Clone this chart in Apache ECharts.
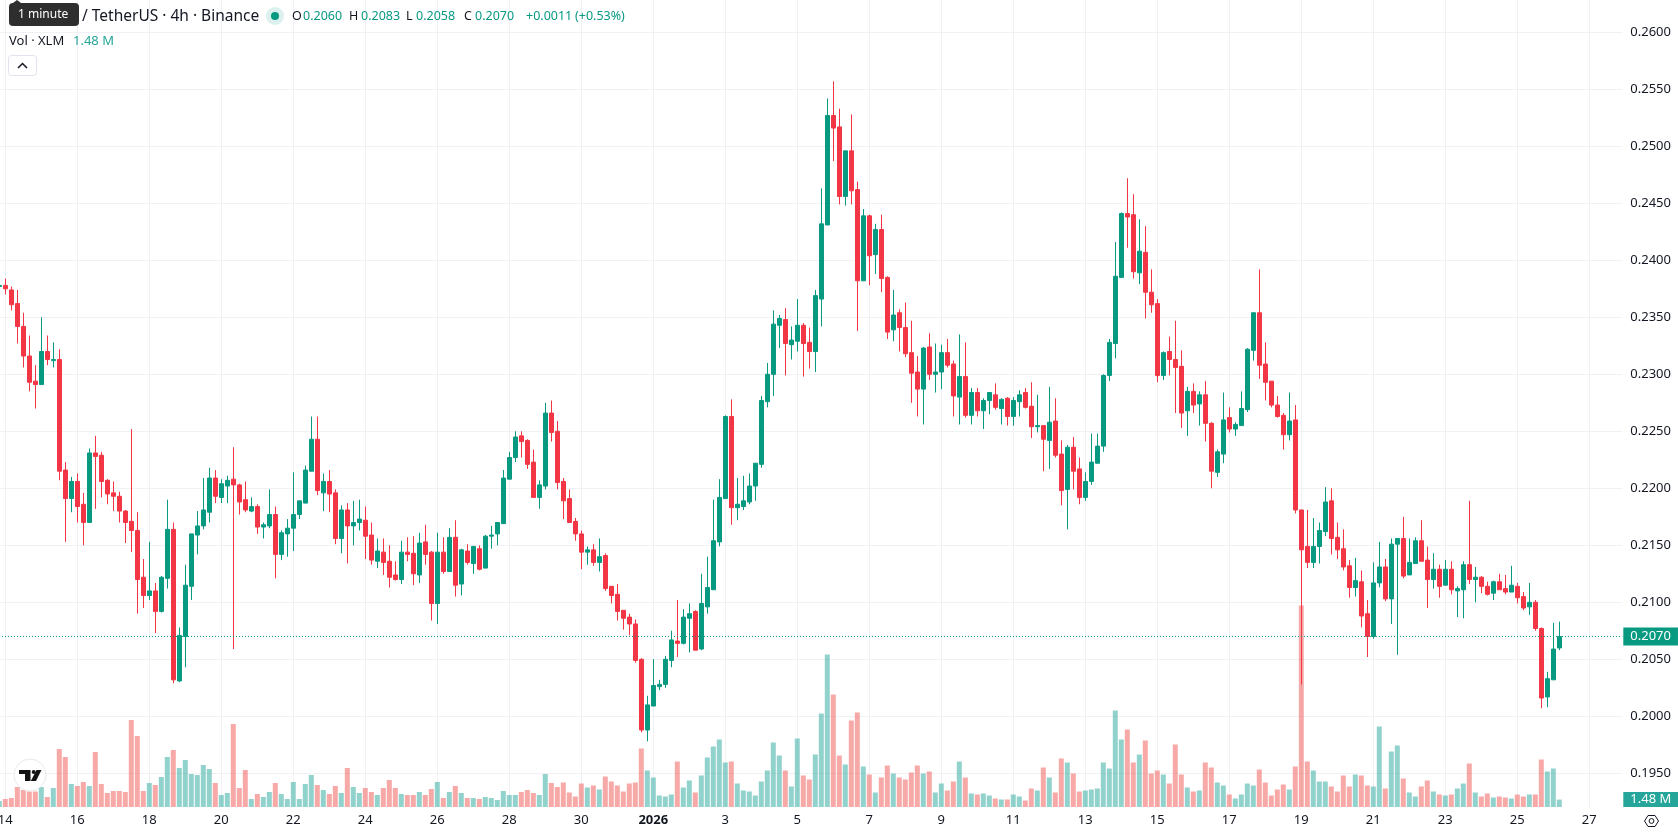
<!DOCTYPE html>
<html>
<head>
<meta charset="utf-8">
<title>XLM / TetherUS 4h</title>
<script src="https://cdn.jsdelivr.net/npm/echarts@6/dist/echarts.min.js"></script>
<style>
html,body{margin:0;padding:0;background:#fff;overflow:hidden}
#chart{width:1678px;height:835px}
</style>
</head>
<body>
<div id="chart"></div>
<script>
// Four-hour XLM/USDT candles, oldest first; the first bar closes the session before Dec 14.
const opens = [
.2377,.2378,.2374,.2362,.2342,.2316,.2294,.2291,.2320,.2312,
.2313,.2216,.2191,.2206,.2186,.2170,.2231,.2229,.2207,.2196,
.2193,.2180,.2171,.2163,.2122,.2106,.2110,.2092,.2121,.2164,
.2031,.2070,.2114,.2159,.2167,.2179,.2209,.2192,.2202,.2208,
.2203,.2190,.2180,.2184,.2166,.2167,.2177,.2142,.2160,.2165,
.2177,.2187,.2215,.2243,.2196,.2206,.2196,.2156,.2181,.2167,
.2170,.2172,.2159,.2136,.2144,.2136,.2124,.2120,.2144,.2143,
.2124,.2153,.2144,.2099,.2144,.2127,.2157,.2116,.2145,.2134,
.2147,.2130,.2158,.2160,.2169,.2208,.2227,.2246,.2242,.2223,
.2192,.2202,.2266,.2250,.2206,.2191,.2171,.2160,.2144,.2146,
.2135,.2141,.2114,.2107,.2093,.2087,.2081,.2050,.1988,.2009,
.2026,.2028,.2049,.2066,.2064,.2086,.2092,.2059,.2096,.2111,
.2153,.2191,.2263,.2183,.2184,.2188,.2202,.2221,.2276,.2300,
.2343,.2348,.2326,.2329,.2343,.2328,.2320,.2366,.2431,.2527,
.2517,.2456,.2496,.2462,.2382,.2439,.2405,.2427,.2385,.2339,
.2354,.2341,.2319,.2302,.2287,.2324,.2300,.2302,.2319,.2309,
.2280,.2298,.2264,.2284,.2268,.2277,.2282,.2270,.2279,.2263,
.2276,.2284,.2272,.2254,.2255,.2242,.2259,.2230,.2199,.2236,
.2217,.2192,.2206,.2222,.2237,.2299,.2327,.2385,.2441,.2440,
.2389,.2407,.2372,.2362,.2299,.2320,.2313,.2307,.2268,.2285,
.2274,.2282,.2257,.2214,.2230,.2262,.2252,.2255,.2269,.2321,
.2354,.2309,.2294,.2273,.2264,.2247,.2260,.2181,.2149,.2135,
.2149,.2162,.2189,.2157,.2147,.2132,.2113,.2118,.2090,.2070,
.2117,.2131,.2103,.2151,.2156,.2124,.2134,.2154,.2137,.2120,
.2129,.2115,.2129,.2110,.2111,.2133,.2120,.2122,.2114,.2108,
.2118,.2112,.2109,.2114,.2105,.2096,.2100,.2077,.2017,.2032,.2060
];
const highs = [
.2380,.2384,.2377,.2374,.2354,.2334,.2308,.2350,.2334,.2328,
.2322,.2223,.2210,.2213,.2196,.2235,.2246,.2232,.2208,.2206,
.2197,.2181,.2252,.2179,.2138,.2153,.2117,.2123,.2190,.2170,
.2078,.2133,.2160,.2180,.2209,.2218,.2216,.2208,.2211,.2236,
.2204,.2206,.2192,.2186,.2170,.2199,.2184,.2163,.2173,.2214,
.2189,.2220,.2263,.2263,.2213,.2216,.2199,.2185,.2187,.2189,
.2190,.2184,.2170,.2156,.2156,.2150,.2136,.2154,.2157,.2158,
.2161,.2168,.2145,.2161,.2157,.2165,.2172,.2147,.2151,.2149,
.2150,.2159,.2167,.2170,.2216,.2232,.2250,.2250,.2243,.2234,
.2207,.2275,.2277,.2259,.2209,.2199,.2174,.2163,.2149,.2151,
.2156,.2143,.2114,.2116,.2093,.2090,.2085,.2051,.2018,.2050,
.2032,.2053,.2075,.2102,.2094,.2099,.2093,.2125,.2140,.2190,
.2208,.2264,.2278,.2209,.2211,.2213,.2222,.2281,.2310,.2356,
.2352,.2358,.2342,.2366,.2345,.2341,.2374,.2463,.2542,.2557,
.2533,.2496,.2528,.2469,.2445,.2440,.2432,.2440,.2386,.2374,
.2357,.2363,.2347,.2316,.2324,.2336,.2327,.2326,.2331,.2312,
.2335,.2328,.2288,.2288,.2279,.2284,.2292,.2279,.2280,.2280,
.2286,.2288,.2293,.2282,.2255,.2289,.2279,.2242,.2238,.2245,
.2227,.2214,.2248,.2248,.2300,.2331,.2416,.2442,.2472,.2458,
.2436,.2430,.2392,.2366,.2320,.2333,.2347,.2321,.2289,.2292,
.2285,.2294,.2258,.2234,.2284,.2271,.2258,.2285,.2323,.2354,
.2392,.2328,.2294,.2281,.2266,.2284,.2273,.2181,.2181,.2174,
.2170,.2201,.2200,.2170,.2164,.2137,.2139,.2128,.2102,.2135,
.2153,.2138,.2156,.2156,.2175,.2156,.2157,.2172,.2149,.2143,
.2133,.2137,.2136,.2114,.2136,.2189,.2131,.2123,.2118,.2119,
.2125,.2124,.2132,.2117,.2109,.2117,.2102,.2078,.2039,.2082,.2083
];
const lows = [
.2377,.2370,.2356,.2327,.2306,.2285,.2270,.2291,.2308,.2306,
.2207,.2153,.2179,.2170,.2150,.2170,.2182,.2192,.2186,.2180,
.2170,.2152,.2144,.2090,.2095,.2102,.2073,.2091,.2112,.2029,
.2030,.2043,.2102,.2142,.2164,.2170,.2187,.2187,.2187,.2059,
.2177,.2179,.2179,.2160,.2156,.2165,.2121,.2137,.2140,.2145,
.2173,.2187,.2215,.2194,.2180,.2179,.2151,.2143,.2134,.2150,
.2163,.2138,.2133,.2130,.2124,.2113,.2119,.2116,.2136,.2115,
.2117,.2133,.2084,.2081,.2125,.2127,.2105,.2106,.2133,.2125,
.2128,.2130,.2147,.2150,.2169,.2208,.2223,.2227,.2217,.2192,
.2182,.2199,.2241,.2199,.2173,.2170,.2154,.2129,.2133,.2132,
.2127,.2110,.2099,.2084,.2076,.2071,.2047,.1986,.1978,.2009,
.2023,.2025,.2043,.2052,.2063,.2056,.2058,.2058,.2090,.2111,
.2149,.2191,.2168,.2172,.2181,.2186,.2189,.2218,.2271,.2281,
.2323,.2299,.2313,.2320,.2298,.2305,.2302,.2342,.2431,.2487,
.2449,.2448,.2449,.2338,.2382,.2378,.2388,.2372,.2331,.2329,
.2320,.2315,.2275,.2263,.2256,.2295,.2284,.2287,.2306,.2263,
.2256,.2262,.2256,.2263,.2252,.2265,.2269,.2256,.2255,.2255,
.2263,.2270,.2244,.2249,.2215,.2217,.2227,.2185,.2164,.2199,
.2186,.2189,.2203,.2222,.2232,.2294,.2314,.2385,.2411,.2384,
.2379,.2349,.2354,.2293,.2295,.2299,.2266,.2253,.2246,.2266,
.2255,.2241,.2200,.2210,.2222,.2249,.2246,.2255,.2267,.2312,
.2296,.2277,.2271,.2262,.2234,.2242,.2178,.2028,.2130,.2130,
.2134,.2158,.2142,.2138,.2128,.2104,.2105,.2078,.2052,.2068,
.2113,.2101,.2081,.2054,.2121,.2124,.2134,.2136,.2095,.2112,
.2104,.2115,.2107,.2087,.2086,.2116,.2100,.2108,.2106,.2102,
.2111,.2107,.2109,.2099,.2093,.2089,.2075,.2007,.2008,.2032,.2058
];
const closes = [
.2378,.2375,.2361,.2342,.2316,.2293,.2291,.2320,.2313,.2313,
.2215,.2191,.2206,.2184,.2170,.2231,.2228,.2206,.2195,.2193,
.2180,.2170,.2163,.2120,.2106,.2110,.2092,.2122,.2164,.2032,
.2071,.2115,.2160,.2167,.2181,.2209,.2193,.2204,.2207,.2203,
.2188,.2181,.2184,.2166,.2168,.2177,.2142,.2161,.2165,.2177,
.2189,.2216,.2243,.2198,.2206,.2195,.2156,.2181,.2167,.2170,
.2173,.2158,.2137,.2145,.2135,.2122,.2120,.2144,.2142,.2125,
.2152,.2142,.2099,.2144,.2127,.2157,.2115,.2146,.2135,.2149,
.2129,.2158,.2159,.2170,.2209,.2227,.2245,.2241,.2221,.2192,
.2203,.2266,.2249,.2205,.2189,.2170,.2160,.2144,.2146,.2135,
.2140,.2112,.2106,.2092,.2086,.2081,.2049,.1988,.2010,.2027,
.2028,.2050,.2067,.2064,.2087,.2090,.2058,.2099,.2113,.2154,
.2192,.2263,.2183,.2186,.2189,.2202,.2222,.2277,.2300,.2344,
.2349,.2327,.2330,.2343,.2327,.2320,.2369,.2432,.2527,.2516,
.2456,.2496,.2461,.2382,.2439,.2404,.2427,.2384,.2337,.2352,
.2341,.2318,.2301,.2287,.2323,.2300,.2302,.2319,.2308,.2281,
.2298,.2264,.2284,.2268,.2277,.2284,.2271,.2278,.2263,.2277,
.2282,.2271,.2254,.2255,.2243,.2258,.2229,.2198,.2236,.2215,
.2192,.2206,.2223,.2237,.2299,.2328,.2386,.2441,.2438,.2390,
.2408,.2372,.2361,.2299,.2319,.2313,.2306,.2266,.2285,.2273,
.2282,.2257,.2215,.2232,.2260,.2252,.2256,.2270,.2322,.2354,
.2308,.2293,.2273,.2263,.2247,.2259,.2181,.2146,.2135,.2149,
.2163,.2188,.2156,.2146,.2131,.2113,.2119,.2088,.2070,.2117,
.2131,.2103,.2151,.2156,.2123,.2135,.2154,.2136,.2120,.2129,
.2114,.2129,.2111,.2112,.2133,.2120,.2122,.2114,.2107,.2118,
.2111,.2109,.2115,.2104,.2095,.2100,.2077,.2016,.2033,.2059,.2070
];
// Traded volume per bar, in millions of XLM.
const volumes = [
1.2,1.6,1.8,4.0,3.4,3.1,3.1,4.0,2.0,3.8,
11.6,10.0,4.6,4.2,5.0,4.2,11.0,4.6,2.8,3.2,
3.2,3.0,17.4,14.2,3.2,4.8,4.4,6.0,10.0,11.4,
7.8,9.4,6.6,6.4,8.4,7.6,4.8,2.4,2.8,16.6,
3.8,7.4,1.6,2.6,2.0,3.0,4.8,2.6,1.6,5.0,
1.6,4.6,6.4,4.4,3.4,2.6,4.2,2.8,7.8,4.0,
2.8,3.8,3.0,2.4,3.8,5.4,3.8,2.6,2.4,2.4,
3.0,2.4,3.6,5.0,1.8,3.0,4.2,2.8,1.8,1.8,
1.6,2.0,1.8,1.4,3.2,2.4,2.4,3.0,3.4,2.8,
2.4,6.6,4.8,4.0,4.9,2.9,2.1,4.7,3.9,4.3,
3.5,6.1,5.1,4.3,3.1,4.7,4.9,11.7,7.3,5.9,
2.3,2.1,2.5,9.1,3.9,5.3,2.9,6.3,9.9,12.1,
13.5,8.9,9.1,4.7,3.3,3.1,2.3,5.1,7.3,12.9,
10.3,7.3,4.1,13.7,6.3,5.5,10.5,18.7,30.5,22.5,
10.3,8.5,17.3,18.9,8.1,6.5,2.9,5.9,8.3,6.7,
5.9,5.5,6.9,8.3,6.7,7.1,2.9,4.7,3.3,5.1,
9.1,5.9,2.7,2.5,2.7,2.3,1.7,1.5,1.5,2.5,
2.1,1.3,3.7,3.3,7.9,5.9,2.9,9.7,8.9,6.7,
3.1,3.3,3.5,3.7,8.9,7.7,19.3,13.5,15.5,8.9,
10.5,13.3,6.7,7.3,6.5,4.7,12.5,6.5,3.9,3.1,
3.3,8.9,7.9,4.9,4.3,2.5,1.7,2.5,4.7,4.3,
7.5,4.9,2.3,3.5,4.5,3.5,8.1,40.3,9.1,7.3,
5.1,5.1,4.1,3.1,6.3,4.1,6.5,6.3,4.3,4.1,
16.1,3.7,11.1,12.3,5.7,2.9,2.1,4.1,5.3,3.1,
2.5,2.3,2.5,3.7,4.7,8.7,2.9,2.1,2.7,1.9,
2.1,1.9,1.7,2.5,2.1,2.5,2.5,9.5,7.1,7.7,1.48
];
// Date labels, one every twelve bars (two days) from the bar after the first.
const dayLabels = ['14','16','18','20','22','24','26','28','30','2026','3','5','7','9','11','13','15','17','19','21','23','25','27'];
const priceTicks = {min: 0.195, max: 0.265, step: 0.005, topLabel: 0.26};
const header = {pair: '/ TetherUS · 4h · Binance', volume: 'Vol · XLM', hint: '1 minute'};

const UP = '#089981', DOWN = '#F23645';
const UP_SOFT = 'rgba(38,166,154,0.5)', DOWN_SOFT = 'rgba(239,83,80,0.5)';
const INK = '#131722', GRID = '#f0f1f4';
const FONT = '"Noto Sans", sans-serif';

const last = opens.length - 1;
const barSlots = 271;               // whitespace to the right of the newest candle
const categories = Array.from({length: barSlots}, (_, i) => String(i));
const labelFor = i => (i >= 1 && (i - 1) % 12 === 0) ? dayLabels[(i - 1) / 12] : null;
const isDayStart = i => labelFor(i) !== null;

const candles = opens.map((o, i) => [o, closes[i], lows[i], highs[i]]);
const volumeBars = volumes.map((v, i) => ({
  value: v,
  itemStyle: {color: closes[i] >= opens[i] ? UP_SOFT : DOWN_SOFT}
}));

const f4 = v => v.toFixed(4);
const change = closes[last] - closes[last - 1];
const changePct = change / closes[last - 1] * 100;

const GRID_LEFT = -3.7, GRID_WIDTH = 1626;

// Top strip: symbol line, OHLC readout, volume line and the collapse button.
const textAt = (x, y, text, fill, size) => ({
  type: 'text', x, y, silent: true, z: 50,
  style: {text, fill, font: `${size || 14}px ${FONT}`, verticalAlign: 'middle', align: 'left'}
});
const ohlc = [
  [292, 'O', INK], [303, f4(opens[last]), UP],
  [349, 'H', INK], [361, f4(highs[last]), UP],
  [406, 'L', INK], [416, f4(lows[last]), UP],
  [464, 'C', INK], [475, f4(closes[last]), UP],
  [526, '+' + f4(change), UP],
  [575, `(+${changePct.toFixed(2)}%)`, UP]
].map(([x, t, c]) => textAt(x, 16.5, t, c, 12.5));

const graphics = [
  {type: 'rect', z: 50, shape: {x: 9, y: 3, width: 70, height: 23, r: 4}, style: {fill: '#2e2e2e'}},
  {type: 'polygon', z: 50, shape: {points: [[13, 3], [17, 0], [21, 3]]}, style: {fill: '#2e2e2e'}},
  textAt(18, 15, header.hint, '#ffffff', 12),
  textAt(82, 17, header.pair, INK, 15.5),
  {type: 'circle', z: 50, shape: {cx: 275, cy: 16, r: 9}, style: {fill: 'rgba(8,153,129,0.14)'}},
  {type: 'circle', z: 51, shape: {cx: 275, cy: 16, r: 4}, style: {fill: UP}},
  ...ohlc,
  textAt(9, 41, header.volume, INK, 13),
  textAt(73, 41, volumes[last] + ' M', '#26a69a', 13),
  {type: 'rect', z: 50, shape: {x: 8.5, y: 55.5, width: 28, height: 20, r: 3}, style: {fill: '#fff', stroke: '#e0e3eb'}},
  {type: 'polyline', z: 51, shape: {points: [[18, 68], [22.5, 63.5], [27, 68]]}, style: {fill: 'none', stroke: INK, lineWidth: 1.5}},
  // Watermark badge at the lower left.
  {type: 'circle', z: 50, shape: {cx: 30, cy: 775, r: 16}, style: {fill: '#fff', stroke: '#e9e9ec', lineWidth: 1}},
  {type: 'polygon', z: 51, shape: {points: [[19, 770], [30.5, 770], [30.5, 781], [25, 781], [25, 774], [19, 774]]}, style: {fill: '#131313'}},
  {type: 'circle', z: 51, shape: {cx: 33.7, cy: 772, r: 2}, style: {fill: '#131313'}},
  {type: 'polygon', z: 51, shape: {points: [[36.5, 770], [41.5, 770], [36, 781], [30.8, 781]]}, style: {fill: '#131313'}},
  // Settings glyph under the price scale.
  {type: 'polygon', z: 50, shape: {points: [[1644.5, 821], [1648, 815.5], [1655, 815.5], [1658.5, 821], [1655, 826.5], [1648, 826.5]]}, style: {fill: 'none', stroke: INK, lineWidth: 1}},
  {type: 'circle', z: 50, shape: {cx: 1651.5, cy: 821, r: 2.4}, style: {fill: 'none', stroke: INK, lineWidth: 1}}
];

const chart = echarts.init(document.getElementById('chart'), null, {renderer: 'canvas'});
chart.setOption({
  animation: false,
  backgroundColor: '#ffffff',
  textStyle: {fontFamily: FONT},
  graphic: graphics,
  grid: [
    {left: GRID_LEFT, width: GRID_WIDTH, top: -24.7, height: 798, outerBoundsMode: 'none'},
    {left: GRID_LEFT, width: GRID_WIDTH, top: -18, height: 825, outerBoundsMode: 'none'}
  ],
  xAxis: [
    {type: 'category', gridIndex: 0, data: categories, boundaryGap: true,
     axisLine: {show: false}, axisTick: {show: false}, axisLabel: {show: false}, splitLine: {show: false}},
    {type: 'category', gridIndex: 1, data: categories, boundaryGap: true,
     axisLine: {show: false}, axisTick: {show: false, alignWithLabel: true},
     axisLabel: {
       interval: i => isDayStart(i),
       margin: 7, fontSize: 13, color: INK, fontFamily: FONT, hideOverlap: false,
       formatter: (v, i) => {
         const t = labelFor(i);
         if (t === null) return '';
         return /^\d{4}$/.test(t) ? `{year|${t}}` : t;
       },
       rich: {year: {fontWeight: 'bold', fontSize: 13, color: INK, fontFamily: FONT}}
     },
     splitLine: {show: true, interval: i => isDayStart(i), alignWithLabel: true, lineStyle: {color: GRID, width: 1}}}
  ],
  yAxis: [
    {type: 'value', gridIndex: 0, position: 'right', scale: false,
     min: priceTicks.min, max: priceTicks.max, interval: priceTicks.step,
     axisLine: {show: false}, axisTick: {show: false},
     axisLabel: {
       color: INK, fontSize: 13, margin: 8, fontFamily: FONT,
       formatter: v => v > priceTicks.topLabel + 1e-6 ? '' : f4(v)
     },
     splitLine: {show: true, lineStyle: {color: GRID, width: 1}}},
    {type: 'value', gridIndex: 1, position: 'right', min: 0, max: 165,
     axisLine: {show: false}, axisTick: {show: false}, axisLabel: {show: false}, splitLine: {show: false}}
  ],
  series: [
    {
      name: 'Volume', type: 'bar', xAxisIndex: 1, yAxisIndex: 1, data: volumeBars,
      barWidth: 5, silent: true, z: 2,
      markLine: {
        silent: true, symbol: 'none', animation: false, precision: 2,
        lineStyle: {color: 'rgba(0,0,0,0)'},
        label: {
          show: true, position: 'end', distance: 1, formatter: () => volumes[last] + ' M',
          backgroundColor: '#26a69a', color: '#fff', fontSize: 13, fontFamily: FONT,
          padding: [0, 7], lineHeight: 15, align: 'left'
        },
        data: [{yAxis: volumes[last]}]
      }
    },
    {
      name: 'XLMUSDT', type: 'candlestick', xAxisIndex: 0, yAxisIndex: 0, data: candles,
      barWidth: 4, silent: true, z: 3,
      itemStyle: {color: UP, color0: DOWN, borderColor: UP, borderColor0: DOWN, borderWidth: 1},
      markLine: {
        silent: true, symbol: 'none', animation: false, precision: 4,
        // The dash phase keeps each dot on a whole pixel despite the grid's fractional left edge.
        lineStyle: {color: UP, type: [1, 2], dashOffset: 0.3, width: 1},
        label: {
          show: true, position: 'end', distance: 1, formatter: () => f4(closes[last]),
          backgroundColor: UP, color: '#fff', fontSize: 13, fontFamily: FONT,
          padding: [0, 7], lineHeight: 18, align: 'left'
        },
        data: [{yAxis: closes[last]}]
      }
    }
  ]
});
</script>
</body>
</html>
